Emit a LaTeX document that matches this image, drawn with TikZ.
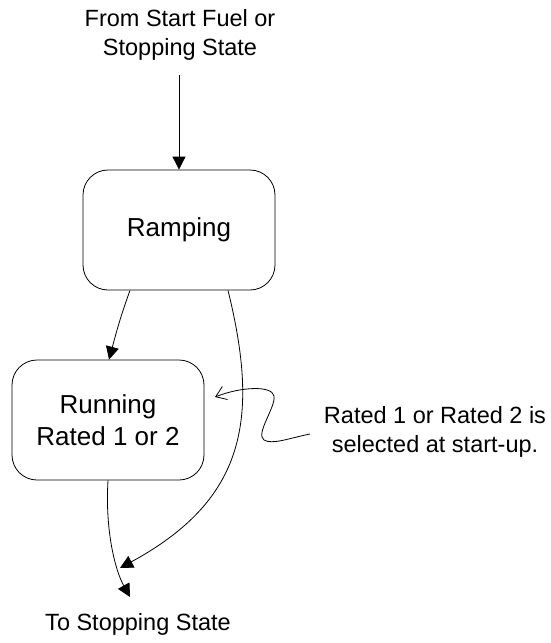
\documentclass[tikz,border=0pt]{standalone}
\usepackage{fontspec}
\setmainfont{Liberation Sans}
\usetikzlibrary{arrows.meta}
\begin{document}
\begin{tikzpicture}[x=1pt,y=-1pt,
  state/.style={draw,rounded corners=25pt,minimum width=192pt,minimum height=120pt,align=center,font=\fontsize{26}{32}\selectfont,inner sep=0pt,line width=0.8pt},
  lbl/.style={align=center,font=\fontsize{23.5}{29}\selectfont,inner sep=0pt},
  tri/.style={-{Triangle[length=13pt,width=13pt]},line width=0.8pt},
  barb/.style={-{Straight Barb[length=10pt,width=14pt]},line width=0.8pt}]
\useasboundingbox (0,0) rectangle (550,643);
\node[lbl] (from) at (180,35) {From Start Fuel or\\Stopping State};
\node[state] (ramp) at (179,230) {Ramping};
\node[state] (run) at (108,420) {Running\\Rated 1 or 2};
\node[lbl] (to) at (138,624) {To Stopping State};
\node[lbl] (note) at (435,432) {Rated 1 or Rated 2 is\\selected at start-up.};
\coordinate (fromend) at (179,75);
\coordinate (toend) at (130,597);
\coordinate (tipA) at (120,568);
\coordinate (notestart) at (310,434);
\coordinate (tipB) at (215,397);
\draw[tri] (fromend) -- (ramp.north);
\draw[tri] ([xshift=-49pt]ramp.south) to[out=-110,in=75] ([xshift=1pt]run.north);
\draw[tri] ([xshift=49pt]ramp.south) .. controls (260,420) and (245,500) .. (tipA);
\draw[tri] (run.south) .. controls (105,530) and (115,570) .. (toend);
\draw[barb] (notestart) .. controls (290,438) and (272,445) .. (264,440)
  .. controls (255,434) and (276,407) .. (274,396)
  .. controls (272,385) and (240,387) .. (tipB);
\end{tikzpicture}
\end{document}
